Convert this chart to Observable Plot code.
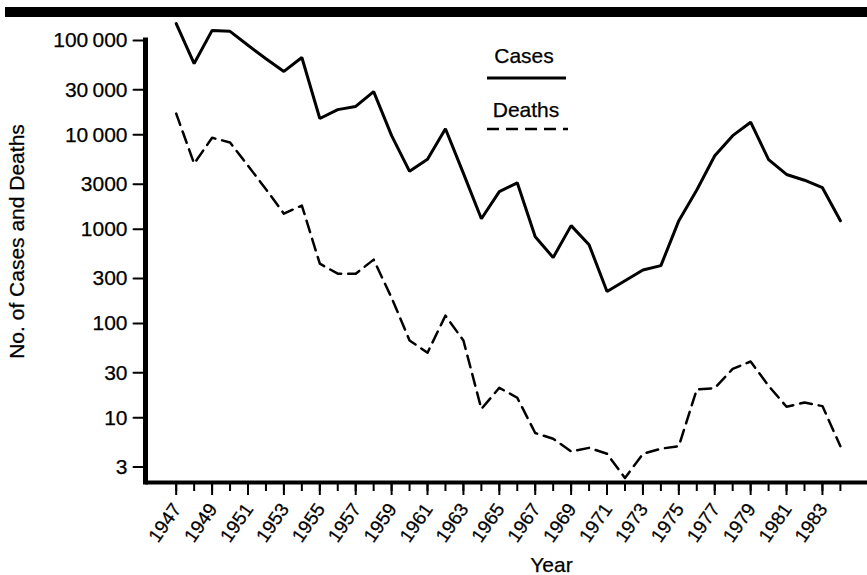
<!DOCTYPE html>
<html>
<head>
<meta charset="utf-8">
<script src="https://cdn.jsdelivr.net/npm/d3@7"></script>
<script src="https://cdn.jsdelivr.net/npm/@observablehq/plot@0.6"></script>
<style>
  html, body { margin: 0; padding: 0; background: #fff; }
  #wrap { position: relative; width: 867px; height: 575px; overflow: hidden; font-family: "Liberation Sans", Arial, Helvetica, sans-serif; }
  #bar { position: absolute; left: 5px; top: 7px; width: 862px; height: 10px; background: #000; }
  #legend { position: absolute; left: 0; top: 0; pointer-events: none; }
  #chart { position: absolute; left: 0; top: 0; }
</style>
</head>
<body>
<div id="wrap">
  <div id="chart"></div>
  <div id="bar"></div>
  <svg id="legend" width="867" height="575" font-family="Liberation Sans, Arial, sans-serif" font-size="21">
    <text x="524" y="63" text-anchor="middle" stroke="#000" stroke-width="0.25">Cases</text>
    <line x1="487" x2="566" y1="78" y2="78" stroke="#000" stroke-width="3"></line>
    <text x="526" y="117" text-anchor="middle" stroke="#000" stroke-width="0.25">Deaths</text>
    <line x1="487" x2="568" y1="129" y2="129" stroke="#000" stroke-width="2.5" stroke-dasharray="12,7"></line>
  </svg>
</div>
<script>
const years = [1947,1948,1949,1950,1951,1952,1953,1954,1955,1956,1957,1958,1959,1960,1961,1962,1963,1964,1965,1966,1967,1968,1969,1970,1971,1972,1973,1974,1975,1976,1977,1978,1979,1980,1981,1982,1983,1984];
const cases = [151000,57000,128000,125000,89000,64000,47000,66000,14900,18500,20000,28700,9800,4100,5500,11600,3900,1290,2500,3100,830,500,1090,684,218,284,369,410,1230,2600,6000,9800,13600,5460,3800,3300,2750,1230];
const deaths = [16800,4950,9300,8300,4700,2650,1460,1780,430,337,337,475,187,66,49,121,66,12.4,20.8,16.3,6.9,6.0,4.4,4.8,4.15,2.3,4.15,4.7,5.0,20,20.6,33,39.5,21.8,13.1,14.5,13.3,5.0];

const yTicks = [3,10,30,100,300,1000,3000,10000,30000,100000];
const yTickLabels = ["3","10","30","100","300","1000","3000","10\u2009000","30\u2009000","100\u2009000"];
const xLabelYears = [1947,1949,1951,1953,1955,1957,1959,1961,1963,1965,1967,1969,1971,1973,1975,1977,1979,1981,1983];
const xDomain = [1945.29, 1985.51];
const yDomain = [2.06, 100000];

const rows = years.map((year, i) => ({year, cases: cases[i], deaths: deaths[i]}));

const tickShape = {draw(context, l) { context.moveTo(0, 0); context.lineTo(0, -l); }};
const textHeavy = {stroke: "#000", strokeWidth: 0.25, fill: "#000"};

const plot = Plot.plot({
  width: 867,
  height: 575,
  marginLeft: 145,
  marginRight: 0,
  marginTop: 40,
  marginBottom: 93,
  style: {fontFamily: "Liberation Sans, Arial, sans-serif", color: "#000", background: "transparent"},
  x: {domain: xDomain},
  y: {type: "log", domain: yDomain, axis: null},
  marks: [
    Plot.vector(yTicks, {y: d => d, frameAnchor: "left", length: 12, rotate: -90, anchor: "start", shape: tickShape, stroke: "#000", strokeWidth: 2}),
    Plot.text(yTicks, {y: d => d, frameAnchor: "left", text: (d, i) => yTickLabels[i], textAnchor: "end", lineAnchor: "middle", dx: -18, fontSize: 21, ...textHeavy}),
    Plot.axisX(years, {tickSize: 9, tickFormat: () => "", strokeWidth: 2, label: null}),
    Plot.axisX(xLabelYears, {tickSize: 13, tickFormat: () => "", strokeWidth: 2, label: null}),
    Plot.text(xLabelYears, {x: d => d, frameAnchor: "bottom", text: d => String(d), rotate: -55, textAnchor: "end", lineAnchor: "middle", dx: 1, dy: 23, fontSize: 19, ...textHeavy}),
    Plot.ruleY([yDomain[0]], {strokeWidth: 4}),
    Plot.ruleX([xDomain[0]], {y1: yDomain[0], y2: yTicks[yTicks.length - 1], strokeWidth: 5, strokeLinecap: "square"}),
    Plot.line(rows, {x: "year", y: "cases", stroke: "#000", strokeWidth: 3, strokeLinejoin: "miter"}),
    Plot.line(rows, {x: "year", y: "deaths", stroke: "#000", strokeWidth: 2.5, strokeDasharray: "12,7"}),
    Plot.text(["No. of Cases and Deaths"], {frameAnchor: "left", rotate: -90, textAnchor: "middle", lineAnchor: "middle", dx: -128, dy: -20, fontSize: 21, ...textHeavy}),
    Plot.text(["Year"], {frameAnchor: "bottom", textAnchor: "middle", lineAnchor: "middle", dx: 45, dy: 83, fontSize: 21, ...textHeavy})
  ]
});
document.getElementById("chart").appendChild(plot);
</script>
</body>
</html>
